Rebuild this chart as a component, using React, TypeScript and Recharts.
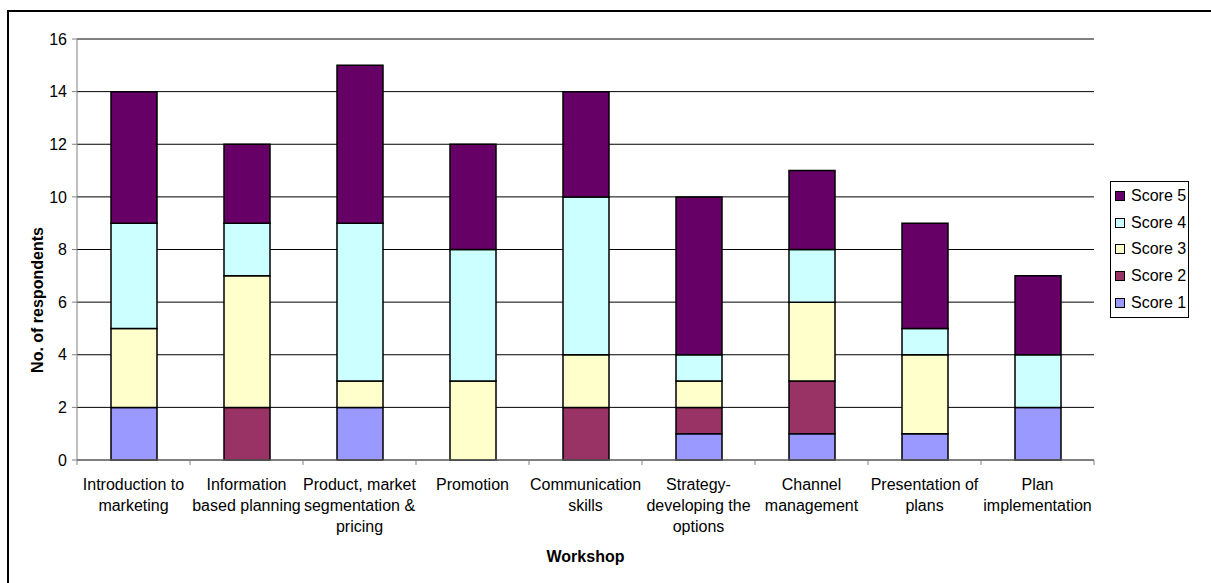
import { Bar, BarChart, CartesianGrid, Legend, XAxis, YAxis } from "recharts";

const FONT = "'Liberation Sans', Arial, sans-serif";

const categories = [
  "Introduction to\nmarketing",
  "Information\nbased planning",
  "Product, market\nsegmentation &\npricing",
  "Promotion",
  "Communication\nskills",
  "Strategy-\ndeveloping the\noptions",
  "Channel\nmanagement",
  "Presentation of\nplans",
  "Plan\nimplementation",
];

const score1 = [2, 0, 2, 0, 0, 1, 1, 1, 2];
const score2 = [0, 2, 0, 0, 2, 1, 2, 0, 0];
const score3 = [3, 5, 1, 3, 2, 1, 3, 3, 0];
const score4 = [4, 2, 6, 5, 6, 1, 2, 1, 2];
const score5 = [5, 3, 6, 4, 4, 6, 3, 4, 3];

const yTicks = [0, 2, 4, 6, 8, 10, 12, 14, 16];

const series = [
  { key: "s1", name: "Score 1", color: "#9999ff" },
  { key: "s2", name: "Score 2", color: "#993366" },
  { key: "s3", name: "Score 3", color: "#ffffcc" },
  { key: "s4", name: "Score 4", color: "#ccffff" },
  { key: "s5", name: "Score 5", color: "#660066" },
];

const data = categories.map((label, i) => ({
  label,
  s1: score1[i],
  s2: score2[i],
  s3: score3[i],
  s4: score4[i],
  s5: score5[i],
}));

const WIDTH = 1211;
const HEIGHT = 583;
const PLOT_LEFT = 77;
const PLOT_RIGHT = 1094;
const PLOT_TOP = 39;
const PLOT_BOTTOM = 460;
const X_AXIS_H = 60;
const BAND = (PLOT_RIGHT - PLOT_LEFT) / categories.length;

function CategoryTick(props: any) {
  const { x, payload, index } = props;
  const lines = String(payload.value).split("\n");
  const y0 = PLOT_BOTTOM;
  return (
    <g>
      <line x1={x - BAND / 2} x2={x - BAND / 2} y1={y0} y2={y0 + 5} stroke="#808080" />
      {index === categories.length - 1 && (
        <line x1={x + BAND / 2} x2={x + BAND / 2} y1={y0} y2={y0 + 5} stroke="#808080" />
      )}
      <text x={x} y={y0 + 30} textAnchor="middle" fontSize={16} fontFamily={FONT} fill="#000">
        {lines.map((l, i) => (
          <tspan key={i} x={x} dy={i === 0 ? 0 : 21}>
            {l}
          </tspan>
        ))}
      </text>
    </g>
  );
}

function LegendBox(props: any) {
  const items = [...(props.payload || [])].reverse();
  return (
    <div
      style={{
        border: "1px solid #000",
        background: "#fff",
        width: 77,
        padding: "1px 0",
        fontFamily: FONT,
        fontSize: 16,
        color: "#000",
      }}
    >
      {items.map((it: any) => (
        <div key={it.value} style={{ height: 26.6, display: "flex", alignItems: "center" }}>
          <span
            style={{
              display: "inline-block",
              width: 8,
              height: 8,
              border: "1px solid #000",
              background: it.color,
              marginLeft: 4,
              marginRight: 6,
            }}
          />
          <span>{it.value}</span>
        </div>
      ))}
    </div>
  );
}

export default function App() {
  return (
    <div
      style={{
        position: "absolute",
        left: 0,
        top: 0,
        width: WIDTH,
        height: HEIGHT,
        overflow: "hidden",
        background: "#fff",
      }}
    >
      <div
        style={{
          position: "absolute",
          left: 7,
          top: 10,
          width: 1400,
          height: 800,
          border: "2px solid #000",
        }}
      />
      <div style={{ position: "absolute", left: 0, top: 0 }}>
        <BarChart
          width={WIDTH}
          height={HEIGHT}
          data={data}
          barSize={46}
          margin={{
            top: PLOT_TOP,
            right: WIDTH - PLOT_RIGHT,
            bottom: HEIGHT - PLOT_BOTTOM - X_AXIS_H,
            left: 0,
          }}
        >
          <CartesianGrid vertical={false} stroke="#000" />
          <XAxis
            dataKey="label"
            interval={0}
            height={X_AXIS_H}
            stroke="#808080"
            tickLine={false}
            tick={<CategoryTick />}
            label={{
              content: () => (
                <text
                  x={(PLOT_LEFT + PLOT_RIGHT) / 2}
                  y={562}
                  textAnchor="middle"
                  fontSize={16}
                  fontWeight="bold"
                  fontFamily={FONT}
                  fill="#000"
                >
                  Workshop
                </text>
              ),
            }}
          />
          <YAxis
            width={PLOT_LEFT}
            domain={[0, 16]}
            ticks={yTicks}
            interval={0}
            stroke="#808080"
            tickSize={5}
            tickMargin={5}
            tick={{ fill: "#000", fontSize: 16, fontFamily: FONT }}
            label={{
              content: () => (
                <text
                  x={37}
                  y={300}
                  transform="rotate(-90 37 300)"
                  textAnchor="middle"
                  dominantBaseline="central"
                  fontSize={16}
                  fontWeight="bold"
                  fontFamily={FONT}
                  fill="#000"
                >
                  No. of respondents
                </text>
              ),
            }}
          />
          <Legend
            layout="vertical"
            align="center"
            verticalAlign="middle"
            content={<LegendBox />}
            wrapperStyle={{ left: 1110, top: 181, width: 79 }}
          />
          {series.map((s) => (
            <Bar
              key={s.key}
              dataKey={s.key}
              name={s.name}
              stackId="a"
              fill={s.color}
              stroke="#000"
              strokeWidth={1.5}
              isAnimationActive={false}
            />
          ))}
        </BarChart>
      </div>
    </div>
  );
}
